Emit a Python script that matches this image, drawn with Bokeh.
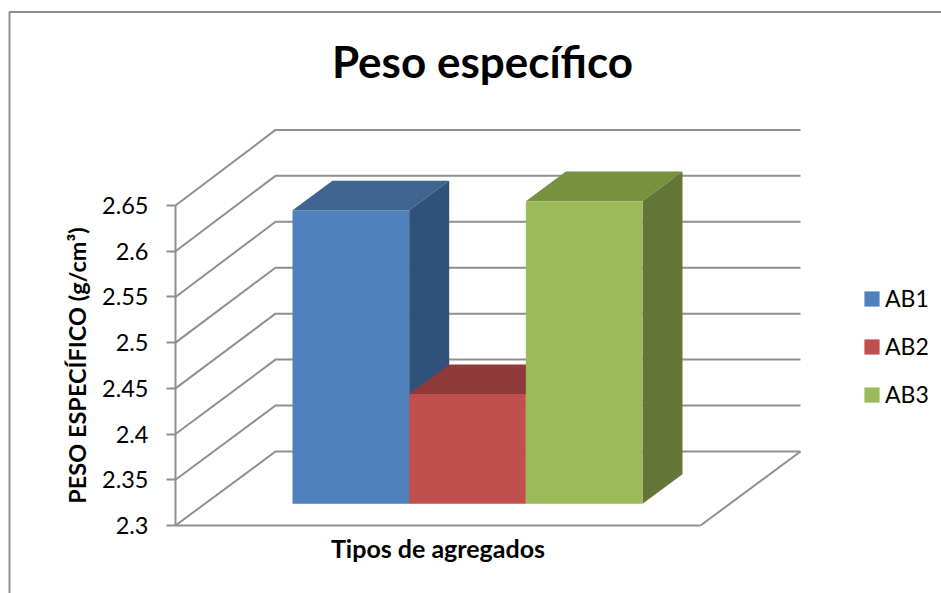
from bokeh.embed import file_html
from bokeh.models import FixedTicker, Label, Legend, LegendItem, LinearAxis, NumeralTickFormatter, Range1d
from bokeh.plotting import figure
from bokeh.resources import INLINE

# Data
series = ["AB1", "AB2", "AB3"]
weights = [2.621, 2.42, 2.631]
y_ticks = [2.3, 2.35, 2.4, 2.45, 2.5, 2.55, 2.6, 2.65]
title_text = "Peso específico"
y_title = "PESO ESPECÍFICO (g/cm³)"
x_title = "Tipos de agregados"

front_colors = ["#4F81BD", "#C0504D", "#9BBB59"]
top_colors = ["#3E6490", "#8F3A38", "#77913F"]
side_colors = ["#30527A", "#8F3A38", "#637637"]
GRID = "#8F8F8F"
FONT = "Lato"

# Page geometry: x runs in page pixels, y in the chart's own unit
W, H = 941, 593
PX_PER_UNIT = 320 / 0.35
Y_BASE = 2.3
Y_BASE_SY = 525


def y_at(sy):
    return Y_BASE + (Y_BASE_SY - sy) / PX_PER_UNIT


# Oblique projection of the depth axis; the back wall is very slightly taller
WALL_X0, WALL_X1, WALL_X2 = 175, 275, 800
FLOOR_X1 = 700
DEPTH_X = WALL_X1 - WALL_X0
DEPTH_Y = 74 / PX_PER_UNIT
WALL_STRETCH = 1.005
BAR_SHIFT = 0.293
BAR_DEPTH = 0.4
BAR_LEFT = 292
BAR_WIDTH = 116.67


def back_wall(t):
    return Y_BASE + DEPTH_Y + (t - Y_BASE) * WALL_STRETCH


p = figure(
    width=W, height=H, output_backend="svg", toolbar_location=None,
    x_range=Range1d(0, W), y_range=Range1d(y_at(H), y_at(0)),
    x_axis_type=None, y_axis_type=None, min_border=0,
    outline_line_color=None, background_fill_color="white",
)
p.grid.visible = False

# Outer chart border, open towards the right and the bottom
p.line([9, 9, W], [y_at(H), y_at(11.5), y_at(11.5)], line_color="#8F8F8F", line_width=2)

# Wall gridlines and the floor outline
for t in y_ticks:
    p.line([WALL_X0, WALL_X1, WALL_X2], [t, back_wall(t), back_wall(t)], line_color=GRID, line_width=2)
p.line([WALL_X2, FLOOR_X1], [back_wall(Y_BASE), Y_BASE], line_color=GRID, line_width=2)

# Bars from left to right, so each one hides the side of the previous
sy = BAR_SHIFT * DEPTH_Y
dx = BAR_DEPTH * DEPTH_X
dy = BAR_DEPTH * DEPTH_Y
renderers = {}
for i in range(len(series)):
    x0 = BAR_LEFT + i * BAR_WIDTH
    x1 = x0 + BAR_WIDTH
    y0 = Y_BASE + sy
    y1 = weights[i] + sy
    p.patch([x0, x1, x1 + dx, x0 + dx], [y1, y1, y1 + dy, y1 + dy], fill_color=top_colors[i], line_color=None)
    p.patch([x1, x1 + dx, x1 + dx, x1], [y0, y0 + dy, y1 + dy, y1], fill_color=side_colors[i], line_color=None)
    renderers[i] = p.quad(left=[x0], right=[x1], bottom=[y0], top=[y1], fill_color=front_colors[i], line_color=None)

# Value axis sitting on the front-left edge of the floor
y_axis = LinearAxis(
    fixed_location=WALL_X0, bounds=(Y_BASE, max(y_ticks)),
    ticker=FixedTicker(ticks=y_ticks), formatter=NumeralTickFormatter(format="0.0[0]"),
    axis_line_color=GRID, axis_line_width=2,
    major_tick_line_color=GRID, major_tick_line_width=2, major_tick_in=0, major_tick_out=9,
    minor_tick_line_color=None,
    major_label_text_font=FONT, major_label_text_font_size="23.5px", major_label_text_color="#000000",
    major_label_standoff=18,
    axis_label=y_title, axis_label_text_font=FONT, axis_label_text_font_size="23.5px",
    axis_label_text_font_style="bold", axis_label_text_color="#000000", axis_label_standoff=8,
)
p.add_layout(y_axis, "left")

# Category axis along the front of the floor
x_axis = LinearAxis(
    fixed_location=Y_BASE, bounds=(WALL_X0, FLOOR_X1),
    ticker=FixedTicker(ticks=[]),
    axis_line_color=GRID, axis_line_width=2,
    major_tick_line_color=None, minor_tick_line_color=None,
    axis_label=x_title, axis_label_text_font=FONT, axis_label_text_font_size="25px",
    axis_label_text_font_style="bold", axis_label_text_color="#000000", axis_label_standoff=7,
)
p.add_layout(x_axis, "below")

p.add_layout(Label(
    x=482, y=y_at(60), text=title_text, text_font=FONT, text_font_size="44px", text_font_style="bold",
    text_color="#000000", text_align="center", text_baseline="middle",
))

legend = Legend(
    items=[LegendItem(label=series[i], renderers=[renderers[i]]) for i in range(3)],
    location=(862, H - 408), orientation="vertical",
    glyph_width=19, glyph_height=19, label_standoff=4, spacing=20, padding=0, margin=0,
    border_line_color=None, background_fill_alpha=0,
    label_text_font=FONT, label_text_font_size="23px", label_text_color="#000000",
)
p.add_layout(legend)

open("out.html", "w").write(file_html(p, INLINE))
